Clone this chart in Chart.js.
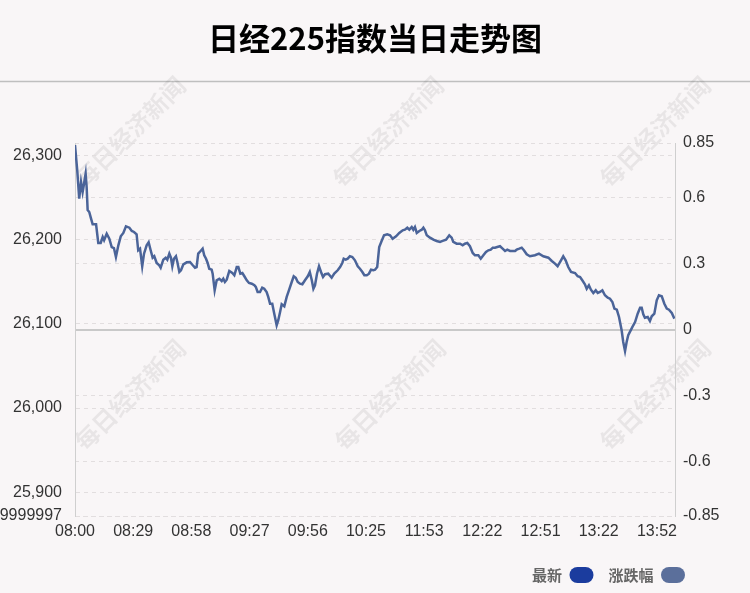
<!DOCTYPE html>
<html>
<head>
<meta charset="utf-8">
<script src="https://cdn.jsdelivr.net/npm/chart.js@4/dist/chart.umd.min.js"></script>
<style>
    html, body { margin: 0; padding: 0; background: #f9f6f7; }
    #chart { display: block; }
</style>
</head>
<body>
<canvas id="chart" width="750" height="593"></canvas>
<script>
// Nikkei 225 intraday, minute index from 08:00 (Beijing time)
const minuteIndex = [
    0, 1.1, 2.1, 3.0, 3.8, 4.5, 5.3, 5.8, 6.3, 7.1, 8.0, 8.8, 10.5, 11.6, 12.8, 13.8, 14.5, 15.8, 17.1, 18.3,
    19.4, 20.4, 21.6, 22.8, 24.1, 25.4, 27.1, 28.3, 29.4, 30.7, 31.5, 32.4, 33.5, 34.4, 35.7, 36.7, 37.7, 38.7, 39.5, 40.7,
    42.0, 42.7, 44.0, 45.2, 46.0, 47.0, 47.8, 48.5, 49.3, 50.3, 51.0, 52.0, 52.8, 54.0, 55.7, 57.3, 58.7, 59.8, 60.6, 61.4,
    62.6, 63.6, 64.4, 65.3, 66.1, 66.9, 68.1, 68.6, 69.6, 70.6, 71.9, 73.1, 73.9, 74.7, 75.6, 76.9, 78.4, 79.4, 80.6, 81.4,
    82.4, 83.4, 84.4, 85.6, 86.7, 88.1, 89.4, 90.1, 91.0, 92.2, 93.3, 94.3, 95.5, 96.3, 97.2, 98.3, 99.3, 100.5, 101.3, 102.2,
    103.0, 104.3, 105.5, 106.6, 108.0, 109.0, 110.0, 111.0, 112.1, 113.3, 114.6, 116.0, 117.0, 118.0, 118.8, 119.6, 120.6, 121.6, 122.6, 123.6,
    124.6, 126.2, 127.9, 129.2, 130.9, 132.1, 133.2, 133.9, 134.9, 135.9, 137.0, 138.2, 139.5, 140.9, 142.0, 143.2, 144.2, 145.4, 146.5, 147.5,
    148.7, 149.5, 150.6, 151.6, 152.8, 154.0, 155.6, 157.0, 158.3, 160.0, 161.6, 163.3, 164.4, 165.6, 166.6, 167.8, 168.6, 169.4, 170.3, 171.6,
    172.8, 173.6, 174.4, 175.3, 176.9, 178.6, 180.2, 181.9, 183.2, 184.9, 186.5, 187.7, 188.5, 190.2, 191.9, 193.2, 194.3, 195.5, 196.8, 198.2,
    199.3, 201.0, 202.2, 203.5, 204.8, 206.0, 207.2, 208.2, 209.3, 210.4, 211.8, 213.1, 214.3, 215.4, 216.8, 218.1, 219.3, 220.1, 221.4, 222.6,
    223.7, 225.1, 226.7, 229.2, 231.2, 233.4, 235.9, 237.6, 239.2, 240.5, 242.2, 243.3, 244.5, 245.8, 247.2, 249.2, 250.5, 251.7, 252.8, 254.1,
    255.0, 256.1, 257.1, 258.3, 259.5, 260.5, 261.6, 262.8, 264.1, 265.5, 266.6, 267.8, 268.8, 270.0, 271.1, 272.4, 273.2, 274.1, 274.9, 275.7,
    277.1, 278.2, 279.1, 280.4, 281.6, 282.4, 283.2, 284.0, 285.4, 286.5, 287.4, 288.7, 289.9, 291.0, 292.4, 293.7, 294.9, 296.0, 297.4, 298.7
];

const latestValues = [
    26312.8, 26283.1, 26249.0, 26268.8, 26256.9, 26266.8, 26278.7, 26262.9, 26235.5, 26233.1, 26225.2, 26218.5, 26218.5, 26196.3, 26196.3, 26203.4, 26199.5, 26207.3, 26201.4, 26191.5,
    26190.3, 26179.6, 26193.5, 26204.2, 26208.2, 26216.1, 26214.5, 26210.6, 26209.4, 26206.6, 26187.6, 26189.5, 26168.6, 26183.6, 26193.5, 26197.1, 26187.6, 26178.8, 26180.5, 26172.5,
    26169.8, 26166.9, 26176.4, 26178.8, 26176.4, 26183.6, 26178.8, 26168.6, 26177.6, 26180.5, 26173.7, 26161.8, 26163.8, 26170.9, 26173.3, 26173.7, 26169.8, 26166.9, 26167.7, 26183.6,
    26186.8, 26189.5, 26181.7, 26177.6, 26172.5, 26165.7, 26164.5, 26159.8, 26140.0, 26151.9, 26153.8, 26151.1, 26153.8, 26149.9, 26152.6, 26163.0, 26160.6, 26157.9, 26167.7, 26167.7,
    26159.8, 26160.6, 26156.7, 26151.9, 26148.7, 26147.9, 26146.0, 26144.0, 26138.0, 26138.0, 26143.1, 26141.9, 26138.0, 26132.1, 26124.1, 26124.1, 26112.2, 26098.4, 26104.4, 26114.2,
    26123.4, 26121.0, 26132.1, 26140.0, 26149.9, 26156.7, 26155.0, 26149.9, 26147.9, 26147.2, 26151.9, 26156.7, 26161.8, 26151.9, 26141.9, 26146.0, 26159.8, 26168.6, 26161.8, 26155.8,
    26159.1, 26159.8, 26155.0, 26159.8, 26163.8, 26167.7, 26172.5, 26177.6, 26176.4, 26177.6, 26180.5, 26179.6, 26175.7, 26168.6, 26165.7, 26161.8, 26157.9, 26157.9, 26159.8, 26164.5,
    26163.8, 26164.5, 26167.7, 26191.5, 26198.7, 26205.4, 26206.6, 26205.4, 26201.4, 26204.2, 26208.2, 26211.4, 26212.1, 26214.5, 26212.1, 26215.3, 26212.1, 26215.3, 26208.2, 26210.6,
    26212.1, 26214.5, 26211.4, 26205.4, 26202.6, 26200.2, 26198.7, 26197.5, 26198.7, 26200.2, 26205.4, 26202.6, 26197.5, 26195.4, 26195.4, 26193.5, 26195.4, 26196.3, 26192.4, 26184.4,
    26181.7, 26181.7, 26177.6, 26181.7, 26185.6, 26187.6, 26188.3, 26190.7, 26190.7, 26191.5, 26192.4, 26189.5, 26186.8, 26188.3, 26186.8, 26186.8, 26186.8, 26188.3, 26189.5, 26190.7,
    26187.6, 26182.8, 26180.5, 26181.7, 26183.6, 26180.5, 26178.8, 26174.9, 26171.7, 26168.6, 26175.7, 26180.5, 26175.7, 26167.7, 26161.8, 26160.6, 26156.7, 26155.8, 26151.9, 26147.2,
    26141.9, 26146.0, 26140.7, 26136.8, 26140.0, 26136.8, 26138.0, 26140.0, 26134.1, 26131.2, 26130.0, 26126.1, 26118.2, 26117.0, 26108.3, 26092.5, 26078.5, 26067.8, 26078.5, 26086.5,
    26093.2, 26098.4, 26102.3, 26112.2, 26119.3, 26119.3, 26111.5, 26107.4, 26108.3, 26103.5, 26109.1, 26112.2, 26128.1, 26134.1, 26132.9, 26124.1, 26118.2, 26117.0, 26113.0, 26106.3
];

// x axis
const timeTickPositions = [ 0, 29, 58, 87, 116, 145, 174, 203, 232, 261, 290 ];
const timeLabels = [ '08:00', '08:29', '08:58', '09:27', '09:56', '10:25', '11:53', '12:22', '12:51', '13:22', '13:52' ];

// left axis (index level)
const levelMin = 25871.6;
const levelMax = 26315.2;
const levelTicks = [ 26300, 26200, 26100, 26000, 25900, 25871.6 ];
const levelTickLabels = [ '26,300', '26,200', '26,100', '26,000', '25,900', '25,871.59999997' ];

// right axis (change %)
const pctTicks = [ 0.85, 0.6, 0.3, 0, -0.3, -0.6, -0.85 ];
const pctTickLabels = [ '0.85', '0.6', '0.3', '0', '-0.3', '-0.6', '-0.85' ];

const legendNames = [ '最新', '涨跌幅' ];
const legendColors = [ '#1b3c9e', '#5b6f9b' ];

const titleText = '日经225指数当日走势图';
const watermarkText = '每日经济新闻';

const cjk = '"Noto Sans CJK SC", "Noto Sans", sans-serif';
const gridColor = '#e2dedf';
const axisColor = '#cfcfcf';

// background, separator, watermarks
const decorPlugin = {
    id: 'decor',
    beforeDraw ( chart )
    {
        const ctx = chart.ctx;
        ctx.save();
        ctx.fillStyle = '#f9f6f7';
        ctx.fillRect( 0, 0, chart.width, chart.height );

        ctx.strokeStyle = '#bfbfbf';
        ctx.lineWidth = 1.5;
        ctx.beginPath();
        ctx.moveTo( 0, 81.5 );
        ctx.lineTo( chart.width, 81.5 );
        ctx.stroke();

        ctx.fillStyle = 'rgba(0, 0, 0, 0.065)';
        ctx.font = 'bold 24px ' + cjk;
        ctx.textAlign = 'center';
        ctx.textBaseline = 'middle';
        const spots = [ [ 130, 132 ], [ 388, 132 ], [ 655, 132 ], [ 130, 395 ], [ 390, 395 ], [ 655, 395 ] ];
        spots.forEach( ( [ x, y ] ) =>
        {
            ctx.save();
            ctx.translate( x, y );
            ctx.rotate( -Math.PI / 4 );
            ctx.fillText( watermarkText, 0, 0 );
            ctx.restore();
        } );
        ctx.restore();
    },
    // keep the legend items ending at x = 700 instead of the canvas edge
    afterLayout ( chart )
    {
        const lg = chart.legend;
        if ( lg )
        {
            lg.right = 700;
            lg.width = lg.right - lg.left;
        }
    }
};

Chart.defaults.font.family = '"Liberation Sans", Arial, sans-serif';

const chart = new Chart( document.getElementById( 'chart' ), {
    type: 'line',
    data: {
        datasets: [
            {
                label: legendNames[ 0 ],
                data: minuteIndex.map( ( m, i ) => ( { x: m, y: latestValues[ i ] } ) ),
                yAxisID: 'y',
                borderColor: '#4b6499',
                backgroundColor: legendColors[ 0 ],
                borderWidth: 2.5,
                pointRadius: 0,
                tension: 0
            },
            {
                label: legendNames[ 1 ],
                data: [],
                yAxisID: 'y1',
                borderColor: legendColors[ 1 ],
                backgroundColor: legendColors[ 1 ],
                pointRadius: 0
            }
        ]
    },
    options: {
        responsive: false,
        animation: false,
        devicePixelRatio: 1,
        layout: { padding: 0 },
        plugins: {
            title: {
                display: true,
                text: titleText,
                color: '#000',
                font: { family: cjk, size: 31, weight: 'bold', lineHeight: 1.2 },
                padding: { top: 20, bottom: 85.8 }
            },
            legend: {
                position: 'bottom',
                align: 'start',
                rtl: true,
                reverse: true,
                labels: {
                    color: '#666',
                    font: { family: cjk, size: 15, weight: 'bold' },
                    boxWidth: 24,
                    boxHeight: 16,
                    useBorderRadius: true,
                    borderRadius: 8,
                    padding: 15,
                    generateLabels: () => legendNames.map( ( name, i ) => ( {
                        text: name,
                        fillStyle: legendColors[ i ],
                        strokeStyle: legendColors[ i ],
                        lineWidth: 0,
                        borderRadius: 8,
                        datasetIndex: i,
                        fontColor: '#666'
                    } ) )
                }
            },
            tooltip: { enabled: false }
        },
        scales: {
            x: {
                type: 'linear',
                min: 0,
                max: 299,
                grid: { display: false },
                border: { display: false },
                afterFit: ( scale ) => { scale.height = 36; },
                afterBuildTicks: ( scale ) => { scale.ticks = timeTickPositions.map( v => ( { value: v } ) ); },
                ticks: {
                    autoSkip: false,
                    maxRotation: 0,
                    padding: -2,
                    color: '#333',
                    font: { size: 16 },
                    callback: ( value, index ) => timeLabels[ index ]
                }
            },
            y: {
                position: 'left',
                min: levelMin,
                max: levelMax,
                afterFit: ( scale ) => { scale.width = 75; },
                afterBuildTicks: ( scale ) => { scale.ticks = levelTicks.map( v => ( { value: v } ) ); },
                grid: { color: gridColor, lineWidth: 1, drawTicks: false },
                border: { display: true, color: axisColor, width: 1, dash: [ 4, 4 ] },
                ticks: {
                    padding: 13,
                    color: '#333',
                    font: { size: 16 },
                    callback: ( value, index ) => levelTickLabels[ index ]
                }
            },
            y1: {
                position: 'right',
                min: -0.85,
                max: 0.85,
                afterFit: ( scale ) => { scale.width = 75; },
                afterBuildTicks: ( scale ) => { scale.ticks = pctTicks.map( v => ( { value: v } ) ); },
                grid: {
                    drawTicks: false,
                    color: ( c ) => c.tick && c.tick.value === 0 ? '#c9c9c9' : gridColor,
                    lineWidth: ( c ) => c.tick && c.tick.value === 0 ? 2 : 1
                },
                border: {
                    display: true,
                    color: axisColor,
                    width: 1,
                    dash: ( c ) => c.tick && c.tick.value === 0 ? [] : [ 4, 4 ]
                },
                ticks: {
                    padding: 8,
                    color: '#333',
                    font: { size: 16 },
                    callback: ( value, index ) => pctTickLabels[ index ]
                }
            }
        }
    },
    plugins: [ decorPlugin ]
} );
</script>
</body>
</html>
